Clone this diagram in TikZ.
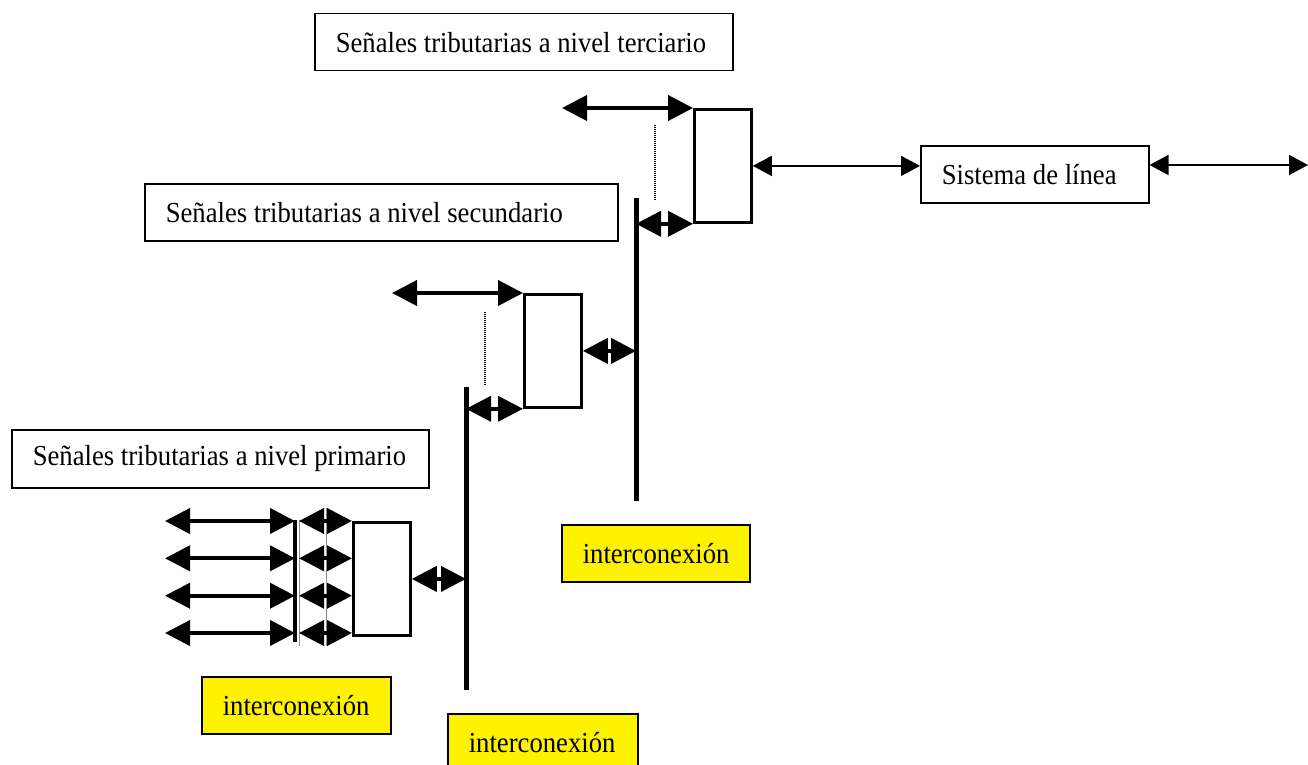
\documentclass[tikz,border=0pt]{standalone}
\usepackage{fontspec}
\setmainfont[FakeStretch=0.92]{Liberation Serif}
\usetikzlibrary{arrows.meta}
\tikzset{
  lbl/.style={draw, line width=1.5pt, font=\fontsize{29}{32}\selectfont,
    inner xsep=21pt, inner ysep=0pt, minimum height=57pt, anchor=north west},
  yel/.style={lbl, fill=yellow},
  mux/.style={draw, line width=2.8pt, inner sep=0pt, minimum width=57pt, minimum height=113pt, anchor=north west},
  bigarr/.style={line width=4pt, {Triangle[length=25pt,width=25pt]}-{Triangle[length=25pt,width=25pt]}},
  thinarr/.style={line width=1.5pt, {Triangle[length=19pt,width=20pt]}-{Triangle[length=19pt,width=20pt]}},
  bus/.style={line width=5pt},
  dots/.style={line width=1.2pt, dash pattern=on 1pt off 1pt},
  hair/.style={line width=0.8pt, black!45}
}
\newcommand{\lbtext}[2]{\makebox[#1][l]{#2}}
\begin{document}
\begin{tikzpicture}[x=1pt,y=-1pt]
\useasboundingbox (0,0) rectangle (1308,765);
\fill[white] (0,0) rectangle (1308,765);

% text boxes
\node[lbl] (ter) at (314,13) {\lbtext{376pt}{Señales tributarias a nivel terciario}};
\node[lbl] (sec) at (144,183) {\lbtext{431pt}{Señales tributarias a nivel secundario}};
\node[lbl, minimum height=58pt] (pri) at (11,429) {\lbtext{375pt}{Señales tributarias a nivel primario}};
\node[lbl] (sis) at (920,145) {\lbtext{186pt}{Sistema de línea}};
\node[yel] (y3) at (561,524) {\lbtext{146pt}{interconexión}};
\node[yel] (y1) at (201,676) {\lbtext{147pt}{interconexión}};
\node[yel] (y2) at (447,713) {\lbtext{148pt}{interconexión}};

% multiplexer boxes
\node[mux] (m3) at (693,108) {};
\node[mux] (m2) at (523,293) {};
\node[mux] (m1) at (352,521) {};

% buses
\coordinate (b2t) at (636,198);
\coordinate (b2b) at (636,501);
\coordinate (b1t) at (466,387);
\coordinate (b1b) at (466,690);
\coordinate (pbt) at (295,520);
\coordinate (pbb) at (295,642);
\draw[bus] (b2t) -- (b2b);
\draw[bus] (b1t) -- (b1b);
\draw[line width=4pt] (pbt) -- (pbb);
\coordinate (h1t) at (299,520);
\coordinate (h1b) at (299,646);
\coordinate (h2t) at (326,508);
\coordinate (h2b) at (326,646);
\draw[hair] (h1t) -- (h1b);
\draw[hair] (h2t) -- (h2b);

% dotted lines
\coordinate (d3a) at (655,125);
\coordinate (d3b) at (655,200);
\coordinate (d2a) at (485,312);
\coordinate (d2b) at (485,385);
\draw[dots] (d3a) -- (d3b);
\draw[dots] (d2a) -- (d2b);

% tertiary level
\coordinate (t3) at (562,108);
\draw[bigarr] (t3) -- (m3.north west);
\draw[bigarr] (b2t |- m3.south west) -- (m3.south west);
\draw[thinarr] (m3.east) -- (sis.west |- m3.east);
\coordinate (out) at (1308,165);
\draw[thinarr] (sis.east |- out) -- (out);

% secondary level
\coordinate (t2) at (392,293);
\draw[bigarr] (t2) -- (m2.north west);
\draw[bigarr] (b1t |- m2.south west) -- (m2.south west);
\draw[bigarr] (m2.east) -- (m2.east -| b2t);

% primary level
\foreach \i/\yy in {1/521,2/558.3,3/595.7,4/633}{
  \coordinate (la\i) at (165,\yy);
  \coordinate (ra\i) at (299,\yy);
  \draw[bigarr] (la\i) -- (la\i -| pbt);
  \draw[bigarr] (ra\i) -- (ra\i -| m1.west);
}
\draw[bigarr] (m1.east) -- (m1.east -| b1t);
\end{tikzpicture}
\end{document}
